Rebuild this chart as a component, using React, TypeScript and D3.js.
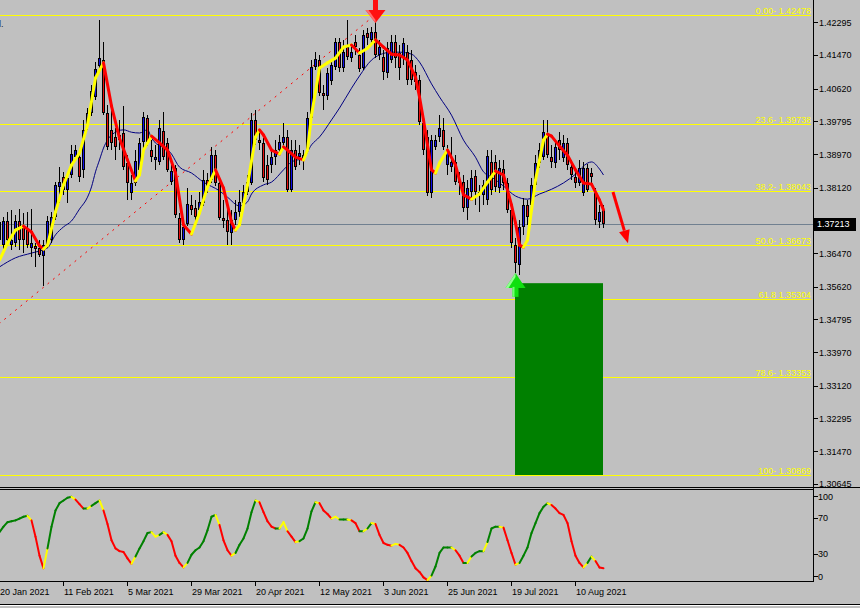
import React from 'react';
import * as d3 from 'd3';

// ---------- DATA ----------
// Daily candles, bar 0 = 20 Jan 2021 ... bar 151 = last bar. [open, high, low, close]
const candles: [number, number, number, number][] = [
  [1.3680,1.3743,1.3660,1.3725],[1.3667,1.3738,1.3655,1.3728],[1.3728,1.3751,1.3665,1.3680],[1.3667,1.3756,1.3655,1.3680],
  [1.3672,1.3743,1.3662,1.3728],[1.3728,1.3758,1.3655,1.3680],[1.3715,1.3748,1.3647,1.3680],[1.3705,1.3751,1.3660,1.3667],
  [1.3660,1.3758,1.3637,1.3672],[1.3665,1.3672,1.3612,1.3657],[1.3660,1.3680,1.3637,1.3642],[1.3640,1.3680,1.3564,1.3667],
  [1.3667,1.3740,1.3660,1.3728],[1.3680,1.3751,1.3672,1.3738],[1.3738,1.3826,1.3730,1.3819],[1.3814,1.3864,1.3773,1.3826],
  [1.3839,1.3852,1.3794,1.3806],[1.3806,1.3847,1.3773,1.3836],[1.3844,1.3920,1.3836,1.3897],[1.3889,1.3920,1.3882,1.3907],
  [1.3889,1.3907,1.3826,1.3839],[1.3857,1.3983,1.3836,1.3958],[1.3970,1.4013,1.3958,1.4000],[1.4000,1.4071,1.3993,1.4056],
  [1.4041,1.4129,1.4033,1.4111],[1.4119,1.4235,1.4109,1.4139],[1.4134,1.4180,1.3995,1.4000],[1.4000,1.4021,1.3907,1.3915],
  [1.3958,1.4008,1.3907,1.3925],[1.3940,1.3963,1.3882,1.3915],[1.3932,1.3983,1.3907,1.3945],[1.3950,1.4018,1.3857,1.3864],
  [1.3874,1.3894,1.3781,1.3824],[1.3799,1.3844,1.3781,1.3824],[1.3824,1.3907,1.3816,1.3879],[1.3857,1.3937,1.3852,1.3925],
  [1.3927,1.4003,1.3912,1.3990],[1.3988,1.3995,1.3917,1.3927],[1.3907,1.3932,1.3877,1.3889],[1.3882,1.3920,1.3857,1.3889],
  [1.3877,1.3983,1.3869,1.3963],[1.3955,1.4003,1.3882,1.3889],[1.3925,1.3937,1.3852,1.3857],[1.3826,1.3869,1.3819,1.3854],
  [1.3862,1.3869,1.3735,1.3743],[1.3735,1.3748,1.3672,1.3680],[1.3680,1.3730,1.3667,1.3713],[1.3720,1.3811,1.3715,1.3771],
  [1.3768,1.3794,1.3743,1.3756],[1.3761,1.3781,1.3725,1.3738],[1.3756,1.3801,1.3743,1.3776],[1.3773,1.3857,1.3766,1.3831],
  [1.3831,1.3849,1.3799,1.3814],[1.3831,1.3915,1.3824,1.3894],[1.3894,1.3907,1.3816,1.3824],[1.3824,1.3831,1.3730,1.3735],
  [1.3735,1.3781,1.3710,1.3728],[1.3730,1.3768,1.3667,1.3700],[1.3698,1.3756,1.3667,1.3730],[1.3730,1.3781,1.3718,1.3751],
  [1.3751,1.3806,1.3738,1.3776],[1.3773,1.3819,1.3766,1.3801],[1.3801,1.3844,1.3794,1.3826],[1.3824,1.4000,1.3819,1.3983],
  [1.3983,1.4008,1.3920,1.3932],[1.3932,1.3958,1.3907,1.3925],[1.3925,1.3937,1.3826,1.3836],[1.3869,1.3894,1.3819,1.3831],
  [1.3869,1.3907,1.3849,1.3889],[1.3889,1.3932,1.3869,1.3907],[1.3907,1.3945,1.3894,1.3927],[1.3925,1.3975,1.3912,1.3940],
  [1.3940,1.3958,1.3801,1.3806],[1.3806,1.3932,1.3801,1.3907],[1.3907,1.3932,1.3857,1.3864],[1.3889,1.3920,1.3869,1.3899],
  [1.3882,1.3907,1.3857,1.3894],[1.3907,1.4003,1.3899,1.3988],[1.3988,1.4134,1.3983,1.4117],[1.4117,1.4154,1.4109,1.4137],
  [1.4134,1.4147,1.4043,1.4051],[1.4051,1.4071,1.4008,1.4043],[1.4043,1.4114,1.4033,1.4101],[1.4081,1.4134,1.4071,1.4122],
  [1.4117,1.4190,1.4109,1.4180],[1.4180,1.4190,1.4104,1.4114],[1.4114,1.4185,1.4104,1.4154],[1.4167,1.4235,1.4134,1.4142],
  [1.4139,1.4172,1.4129,1.4154],[1.4180,1.4197,1.4147,1.4167],[1.4147,1.4165,1.4104,1.4111],[1.4114,1.4210,1.4109,1.4197],
  [1.4202,1.4215,1.4172,1.4190],[1.4185,1.4217,1.4172,1.4205],[1.4205,1.42478,1.4139,1.4147],[1.4147,1.4185,1.4134,1.4167],
  [1.4142,1.4159,1.4084,1.4104],[1.4101,1.4180,1.4089,1.4164],[1.4134,1.4197,1.4127,1.4180],[1.4180,1.4197,1.4114,1.4139],
  [1.4152,1.4172,1.4084,1.4114],[1.4139,1.4190,1.4122,1.4177],[1.4154,1.4172,1.4071,1.4084],[1.4134,1.4159,1.4071,1.4084],
  [1.4104,1.4122,1.4058,1.4079],[1.4084,1.4096,1.3970,1.3978],[1.3975,1.3988,1.3894,1.3907],[1.3940,1.3958,1.3791,1.3799],
  [1.3799,1.3945,1.3786,1.3932],[1.3915,1.3945,1.3907,1.3932],[1.3940,1.3995,1.3927,1.3963],[1.3958,1.3988,1.3907,1.3915],
  [1.3869,1.3920,1.3844,1.3907],[1.3864,1.3940,1.3852,1.3877],[1.3877,1.3894,1.3819,1.3826],[1.3831,1.3852,1.3794,1.3824],
  [1.3826,1.3844,1.3751,1.3761],[1.3761,1.3831,1.3730,1.3811],[1.3801,1.3857,1.3781,1.3836],[1.3841,1.3857,1.3768,1.3801],
  [1.3801,1.3819,1.3751,1.3794],[1.3794,1.3831,1.3768,1.3819],[1.3781,1.3907,1.3768,1.3892],[1.3877,1.3907,1.3794,1.3806],
  [1.3877,1.3894,1.3801,1.3814],[1.3811,1.3882,1.3799,1.3862],[1.3859,1.3882,1.3806,1.3824],[1.3824,1.3836,1.3748,1.3756],
  [1.3756,1.3768,1.3660,1.3672],[1.3667,1.3685,1.3597,1.3622],[1.3617,1.3730,1.3592,1.3713],[1.3713,1.3786,1.3693,1.3768],
  [1.3768,1.3781,1.3718,1.3738],[1.3768,1.3836,1.3756,1.3819],[1.3819,1.3894,1.3811,1.3874],[1.3874,1.3925,1.3862,1.3907],
  [1.3889,1.3983,1.3882,1.3952],[1.3950,1.3983,1.3887,1.3894],[1.3889,1.3920,1.3862,1.3877],[1.3874,1.3932,1.3862,1.3915],
  [1.3932,1.3952,1.3882,1.3907],[1.3887,1.3945,1.3877,1.3925],[1.3925,1.3937,1.3857,1.3869],[1.3864,1.3882,1.3831,1.3844],
  [1.3839,1.3862,1.3811,1.3824],[1.3824,1.3882,1.3816,1.3862],[1.3799,1.3877,1.3791,1.3862],[1.3862,1.3872,1.3801,1.3806],
  [1.3849,1.3862,1.3824,1.3839],[1.3799,1.3811,1.3718,1.3730],[1.3725,1.3768,1.3710,1.3751],[1.3756,1.3768,1.3710,1.37213],
];

// thin navy moving average [bar, price]
const slowMA: [number, number][] = [
  [0,1.3612],[4,1.3635],[8,1.3647],[12,1.3660],[14,1.3693],[16,1.3713],[18,1.3728],[20,1.3758],[22,1.3788],[23,1.3814],
  [24,1.3852],[25,1.3882],[26,1.3912],[27,1.3932],[28,1.3945],[31,1.3958],[33,1.3952],[35,1.3950],[37,1.3958],[38,1.3937],
  [43,1.3897],[45,1.3864],[48,1.3849],[51,1.3826],[55,1.3804],[57,1.3788],[60,1.3766],[62,1.3776],[63,1.3796],[66,1.3819],
  [68,1.3826],[71,1.3857],[73,1.3877],[76,1.3887],[78,1.3920],[80,1.3940],[83,1.3983],[85,1.4013],[88,1.4063],[90,1.4094],
  [93,1.4134],[95,1.4147],[98,1.4154],[100,1.4154],[103,1.4149],[105,1.4129],[108,1.4074],[110,1.4041],[113,1.3995],[116,1.3932],
  [119,1.3889],[121,1.3852],[123,1.3839],[126,1.3816],[129,1.3791],[132,1.3783],[135,1.3796],[138,1.3808],[141,1.3824],[144,1.3846],
  [147,1.3874],[148,1.3877],[150,1.3859],[151,1.3844],
];

// thick yellow/red fast average [bar, price]
const fastMA: [number, number][] = [
  [0,1.3629],[2,1.3672],[4,1.3705],[6,1.3715],[8,1.3700],[10,1.3665],[11,1.3657],[12,1.3667],[14,1.3751],[16,1.3819],
  [18,1.3869],[20,1.3899],[22,1.3970],[24,1.4089],[26,1.4127],[28,1.4018],[30,1.3937],[32,1.3882],[34,1.3829],[35,1.3844],
  [36,1.3907],[38,1.3942],[40,1.3925],[42,1.3907],[44,1.3849],[46,1.3718],[48,1.3695],[50,1.3748],[52,1.3814],[54,1.3857],
  [56,1.3811],[58,1.3725],[59,1.3705],[60,1.3718],[62,1.3819],[64,1.3940],[65,1.3958],[66,1.3945],[68,1.3907],[70,1.3897],
  [71,1.3915],[72,1.3907],[74,1.3889],[76,1.3882],[77,1.3907],[78,1.3995],[80,1.4114],[82,1.4127],[84,1.4139],[86,1.4167],
  [88,1.4172],[90,1.4152],[92,1.4164],[94,1.4185],[96,1.4167],[98,1.4149],[100,1.4147],[102,1.4134],[104,1.4091],[105,1.4041],
  [106,1.3983],[107,1.3920],[108,1.3857],[109,1.3849],[110,1.3874],[112,1.3907],[114,1.3869],[116,1.3794],[118,1.3783],[120,1.3796],
  [122,1.3826],[124,1.3854],[126,1.3844],[128,1.3768],[129,1.3723],[130,1.3667],[131,1.3662],[132,1.3680],[134,1.3831],[136,1.3932],
  [137,1.3947],[138,1.3942],[140,1.3917],[142,1.3894],[144,1.3857],[146,1.3824],[148,1.3821],[150,1.3781],[151,1.3756],
];

// oscillator, one value per bar
const oscValues: number[] = [
  54,60,65,66,67,69,71,72,67,49,28,14,36,60,78,86,89,92,93,90,
  85,80,80,83,86,89,78,63,45,36,33,32,25,19,27,36,44,53,54,49,
  51,54,51,44,28,20,15,20,29,34,37,44,56,71,73,62,45,34,28,31,
  40,47,58,76,89,87,76,66,60,58,58,65,55,49,43,44,47,58,77,87,
  86,78,74,69,71,68,68,68,67,64,55,55,58,64,63,51,42,40,39,41,
  40,37,31,22,14,10,4,1,6,16,31,37,37,37,34,28,20,20,27,31,
  33,33,43,58,60,60,59,45,31,18,20,28,37,53,64,75,82,86,84,80,
  75,73,64,44,28,20,15,20,27,22,15,14,
];

const priceTicks = [1.42295, 1.41470, 1.40620, 1.39795, 1.38970, 1.38120, 1.37295, 1.36470, 1.35620, 1.34795, 1.33970, 1.33120, 1.32295, 1.31470, 1.30645];
const dateTickBars = [0, 16, 32, 48, 64, 80, 96, 112, 128, 144];
const dateTickLabels = ['20 Jan 2021', '11 Feb 2021', '5 Mar 2021', '29 Mar 2021', '20 Apr 2021', '12 May 2021', '3 Jun 2021', '25 Jun 2021', '19 Jul 2021', '10 Aug 2021'];
const oscTicks = [100, 70, 30, 0];

const fibPrices = [1.42478, 1.39738, 1.38043, 1.36673, 1.35304, 1.33353, 1.30869];
const fibNames = ['0.00-', '23.6-', '38.2-', '50.0-', '61.8', '78.6-', '100-'];
const fibAnchorBars = [-46, 94];
const fibAnchorPrices = [1.30869, 1.42478];

const lastPrice = 1.37213;
const topArrow: [number, number] = [94, 1.42478];
const bottomArrow: [number, number] = [129, 1.3597];
const zoneBars = [129, 151];
const zonePrices = [1.3571, 1.30869];
const forecastFrom: [number, number] = [153.5, 1.3801];
const forecastTo: [number, number] = [157.25, 1.3672];

// ---------- CHART ----------
const FONT = 'Liberation Sans, Arial, sans-serif';
const BG = '#c0c0c0';
const AXIS_X = 813.5;

export default function App() {
  const x = d3.scaleLinear().domain([0, 151]).range([-1, 603]);
  const y = d3.scaleLinear().domain([1.30869, 1.42478]).range([475, 15]);
  const yo = d3.scaleLinear().domain([0, 100]).range([581, 490.5]);

  const slowLine = d3.line<[number, number]>().x(d => x(d[0]) + 0.5).y(d => y(d[1])).curve(d3.curveMonotoneX)(slowMA) || '';
  const fibLine = d3.line<[number, number]>().x(d => x(d[0])).y(d => y(d[1]))(
    fibAnchorBars.map((b, k) => [b, fibAnchorPrices[k]] as [number, number])) || '';

  const fastSegs = fastMA.slice(1).map((p, k) => {
    const a = fastMA[k];
    return { x1: x(a[0]) + 0.5, y1: y(a[1]), x2: x(p[0]) + 0.5, y2: y(p[1]), c: p[1] >= a[1] ? '#ffff00' : '#ff0000' };
  });

  const oscSegs = oscValues.slice(1).map((v, k) => {
    const prev = oscValues[k];
    const dir = Math.sign(v - prev);
    const pdir = k > 0 ? Math.sign(prev - oscValues[k - 1]) : dir;
    const c = dir !== pdir && dir !== 0 ? '#ffff00' : dir >= 0 ? '#008000' : '#ff0000';
    return { x1: x(k) + 0.5, y1: yo(prev), x2: x(k + 1) + 0.5, y2: yo(v), c };
  });

  const ta = { cx: x(topArrow[0]) + 0.5, tip: y(topArrow[1]) + 8 };
  const ba = { cx: x(bottomArrow[0]) + 0.5, tip: y(bottomArrow[1]) };
  const fx1 = x(forecastFrom[0]), fy1 = y(forecastFrom[1]), fx2 = x(forecastTo[0]), fy2 = y(forecastTo[1]);
  const flen = Math.hypot(fx2 - fx1, fy2 - fy1);
  const ux = (fx2 - fx1) / flen, uy = (fy2 - fy1) / flen;
  const hb = { x: fx2 - ux * 13, y: fy2 - uy * 13 };
  const headPts = `${fx2},${fy2} ${hb.x - uy * 5.5},${hb.y + ux * 5.5} ${hb.x + uy * 5.5},${hb.y - ux * 5.5}`;

  const lastY = Math.round(y(lastPrice));

  return (
    <svg width={860} height={608} style={{ position: 'fixed', left: 0, top: 0, background: BG }} fontFamily={FONT}>
      <defs>
        <clipPath id="mainClip"><rect x={0} y={0} width={AXIS_X} height={487} /></clipPath>
        <clipPath id="oscClip"><rect x={0} y={490} width={AXIS_X} height={91} /></clipPath>
      </defs>
      <rect x={0} y={0} width={860} height={608} fill={BG} />

      <g clipPath="url(#mainClip)">
        {fibPrices.map((p, k) => (
          <line key={'f' + k} x1={0} x2={811} y1={Math.round(y(p)) + 0.5} y2={Math.round(y(p)) + 0.5} stroke="#ffff00" strokeWidth={1} shapeRendering="crispEdges" />
        ))}
        <line x1={0} x2={AXIS_X} y1={lastY + 0.5} y2={lastY + 0.5} stroke="#708090" strokeWidth={1} shapeRendering="crispEdges" />
        <path d={fibLine} stroke="#ff0000" strokeWidth={1} strokeDasharray="2 5" fill="none" />
        <rect x={x(zoneBars[0])} y={y(zonePrices[0])} width={x(zoneBars[1]) - x(zoneBars[0])} height={y(zonePrices[1]) - y(zonePrices[0])} fill="#008000" />
        <path d={slowLine} stroke="#000080" strokeWidth={1} fill="none" />
        {candles.map((c, i) => {
          const [o, h, l, cl] = c;
          const cx = Math.round(x(i));
          const up = cl >= o;
          const top = Math.round(y(Math.max(o, cl)));
          const bot = Math.round(y(Math.min(o, cl)));
          const bh = Math.max(1, bot - top);
          return (
            <g key={'c' + i} shapeRendering="crispEdges">
              <line x1={cx + 0.5} x2={cx + 0.5} y1={Math.round(y(h))} y2={Math.round(y(l))} stroke="#000" strokeWidth={1} />
              <rect x={cx - 1} y={top} width={3} height={bh} fill="#000" />
              {bh > 2 && <rect x={cx} y={top + 1} width={1} height={bh - 2} fill={up ? '#1010e8' : '#e81010'} />}
            </g>
          );
        })}
        {fastSegs.map((s, k) => (
          <line key={'m' + k} x1={s.x1} y1={s.y1} x2={s.x2} y2={s.y2} stroke={s.c} strokeWidth={3} strokeLinecap="round" />
        ))}
        {fibPrices.map((p, k) => (
          <text key={'fl' + k} x={811} y={Math.round(y(p)) - 1.5} fontSize={9} fill="#ffff00" textAnchor="end">{`${fibNames[k]} ${p.toFixed(5)}`}</text>
        ))}
        <g>
          <rect x={ta.cx - 2.5} y={0} width={5} height={ta.tip - 12} fill="#ff1010" />
          <polygon points={`${ta.cx - 10},${ta.tip - 13} ${ta.cx + 10},${ta.tip - 13} ${ta.cx},${ta.tip}`} fill="#ff1010" />
          <polygon points={`${ta.cx - 10},${ta.tip - 13} ${ta.cx - 7},${ta.tip - 13} ${ta.cx},${ta.tip - 3} ${ta.cx},${ta.tip}`} fill="#ff7070" />
        </g>
        <g>
          <rect x={ba.cx - 3} y={ba.tip + 14} width={6} height={10} fill="#10e010" />
          <polygon points={`${ba.cx},${ba.tip} ${ba.cx - 10},${ba.tip + 15} ${ba.cx + 10},${ba.tip + 15}`} fill="#10e010" />
          <polygon points={`${ba.cx},${ba.tip} ${ba.cx - 10},${ba.tip + 15} ${ba.cx - 7},${ba.tip + 15} ${ba.cx},${ba.tip + 4}`} fill="#90ff90" />
          <rect x={ba.cx - 3} y={ba.tip + 14} width={2} height={10} fill="#70ff70" />
        </g>
        <line x1={fx1} y1={fy1} x2={hb.x} y2={hb.y} stroke="#ff0000" strokeWidth={3} />
        <polygon points={headPts} fill="#ff0000" />
        <text x={-1} y={27} fontSize={9} fill="#202040">l.</text>
      </g>

      <g clipPath="url(#oscClip)">
        {oscSegs.map((s, k) => (
          <line key={'o' + k} x1={s.x1} y1={s.y1} x2={s.x2} y2={s.y2} stroke={s.c} strokeWidth={2} strokeLinecap="round" />
        ))}
      </g>

      <g shapeRendering="crispEdges">
        <line x1={0} x2={860} y1={487.5} y2={487.5} stroke="#000" />
        <line x1={0} x2={AXIS_X} y1={489.5} y2={489.5} stroke="#000" />
        <line x1={AXIS_X} x2={AXIS_X} y1={0} y2={581.5} stroke="#000" />
        <line x1={0} x2={AXIS_X} y1={581.5} y2={581.5} stroke="#000" />
        <line x1={0} x2={860} y1={604.5} y2={604.5} stroke="#000" />
        <line x1={0} x2={860} y1={605.5} y2={605.5} stroke="#ffffff" />
      </g>

      {priceTicks.map((p, k) => {
        const ty = Math.round(y(p));
        const hidden = Math.abs(ty - lastY) < 10;
        return (
          <g key={'pt' + k}>
            <line x1={AXIS_X} x2={AXIS_X + 4} y1={ty + 0.5} y2={ty + 0.5} stroke="#000" shapeRendering="crispEdges" />
            {!hidden && <text x={819} y={y(p) + 3.5} fontSize={9} fill="#000">{p.toFixed(5)}</text>}
          </g>
        );
      })}
      <rect x={814} y={lastY - 6} width={42} height={13} fill="#000" />
      <text x={817} y={y(lastPrice) + 3.5} fontSize={9} fill="#fff">{lastPrice.toFixed(5)}</text>

      {oscTicks.map((v, k) => {
        const ty = Math.min(576, Math.max(496, yo(v)));
        return (
          <g key={'ot' + k}>
            <line x1={AXIS_X} x2={AXIS_X + 4} y1={Math.round(ty) + 0.5} y2={Math.round(ty) + 0.5} stroke="#000" shapeRendering="crispEdges" />
            <text x={818} y={ty + 3.5} fontSize={9} fill="#000">{v}</text>
          </g>
        );
      })}

      {dateTickBars.map((b, k) => (
        <g key={'dt' + k}>
          <line x1={Math.round(x(b)) + 0.5} x2={Math.round(x(b)) + 0.5} y1={582} y2={586} stroke="#000" shapeRendering="crispEdges" />
          <text x={x(b) + 1} y={595} fontSize={9} fill="#000">{dateTickLabels[k]}</text>
        </g>
      ))}
    </svg>
  );
}
